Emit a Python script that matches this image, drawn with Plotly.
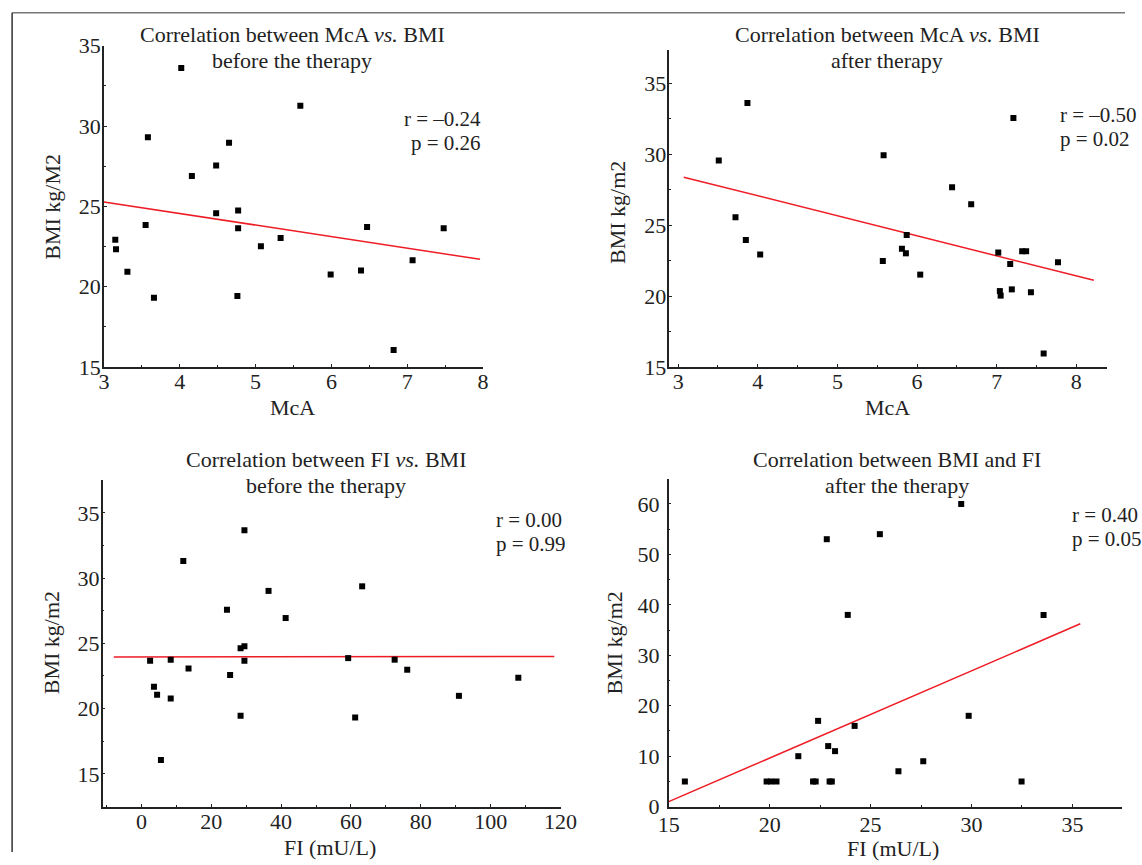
import plotly.graph_objects as go

FONT = "Liberation Serif, Times New Roman, serif"

# ---------------- data ----------------
# Panel 1: McA vs BMI before therapy
mca_before = [3.15, 3.16, 3.31, 3.55, 3.58, 3.66, 4.02, 4.16, 4.48, 4.48, 4.65, 4.77, 4.77, 4.76,
              5.07, 5.33, 5.59, 5.99, 6.39, 6.47, 6.82, 7.07, 7.48]
bmi_mca_before = [22.93, 22.33, 20.94, 23.85, 29.31, 19.32, 33.61, 26.90, 24.57, 27.54, 28.96, 24.74,
                  23.64, 19.42, 22.52, 23.04, 31.26, 20.77, 21.02, 23.72, 16.06, 21.65, 23.64]
fit1_x = [3.0, 7.96]
fit1_y = [25.28, 21.71]

# Panel 2: McA vs BMI after therapy
mca_after = [3.51, 3.72, 3.85, 3.87, 4.03, 5.57, 5.58, 5.81, 5.86, 5.87, 6.04, 6.44, 6.68, 7.02,
             7.04, 7.05, 7.17, 7.19, 7.21, 7.32, 7.37, 7.43, 7.59, 7.77]
bmi_mca_after = [29.56, 25.56, 23.96, 33.61, 22.93, 22.48, 29.94, 23.35, 23.02, 24.32, 21.52, 27.68,
                 26.48, 23.07, 20.36, 20.04, 22.27, 20.48, 32.55, 23.16, 23.16, 20.27, 15.96, 22.39]
fit2_x = [3.07, 8.22]
fit2_y = [28.39, 21.12]

# Panel 3: FI vs BMI before therapy
fi_before = [2.5, 3.6, 4.5, 5.6, 8.4, 8.4, 12.0, 13.5, 24.5, 25.4, 28.4, 28.4, 29.5, 29.5, 29.5,
             36.4, 41.3, 59.2, 61.2, 63.2, 72.5, 76.1, 90.9, 107.9]
bmi_fi_before = [23.67, 21.68, 21.06, 16.07, 23.75, 20.78, 31.32, 23.08, 27.58, 22.57, 24.62, 19.45,
                 33.67, 24.77, 23.67, 29.02, 26.94, 23.87, 19.32, 29.37, 23.75, 22.98, 20.98, 22.37]
fit3_x = [-7.9, 118.2]
fit3_y = [23.95, 24.0]

# Panel 4: BMI and FI after therapy
fi_after = [15.80, 19.85, 20.07, 20.34, 21.42, 22.15, 22.28, 22.40, 22.83, 22.90, 22.97, 23.08,
            23.24, 23.87, 24.21, 25.46, 26.38, 27.61, 29.49, 29.86, 32.48, 33.57]
bmi_fi_after = [5, 5, 5, 5, 10, 5, 5, 17, 53, 12, 5, 5, 11, 38, 16, 54, 7, 9, 60, 18, 5, 38]
fit4_x = [15.0, 35.39]
fit4_y = [0.99, 36.24]

stats = [("r = \u20130.24", "p = 0.26"), ("r = \u20130.50", "p = 0.02"),
         ("r = 0.00", "p = 0.99"), ("r = 0.40", "p = 0.05")]

# ---------------- helpers (target pixel -> paper fraction) ----------------
OX, VW = 11.6, 1111.6
OY, VH = 13.0, 839.0

def px(x):
    return min(max((x - OX) / VW, 0.0), 1.0)

def py(y):
    return min(max(1 - (y - OY) / VH, 0.0), 1.0)

def dom_x(a, b):
    return [px(a), px(b)]

def dom_y(top, bottom):
    return [py(bottom), py(top)]

fig = go.Figure()

panels = [
    (mca_before, bmi_mca_before, fit1_x, fit1_y),
    (mca_after, bmi_mca_after, fit2_x, fit2_y),
    (fi_before, bmi_fi_before, fit3_x, fit3_y),
    (fi_after, bmi_fi_after, fit4_x, fit4_y),
]
for i, (xs, ys, fx, fy) in enumerate(panels):
    suf = "" if i == 0 else str(i + 1)
    fig.add_trace(go.Scatter(x=fx, y=fy, mode="lines", line=dict(color="#ee1c25", width=1.5),
                             xaxis="x" + suf, yaxis="y" + suf, showlegend=False, hoverinfo="skip"))
    fig.add_trace(go.Scatter(x=xs, y=ys, mode="markers",
                             marker=dict(symbol="square", size=6, color="black"),
                             xaxis="x" + suf, yaxis="y" + suf, showlegend=False))

def axis(domain, rng, dtick, minor_dtick, anchor, standoff):
    return dict(domain=domain, range=rng, dtick=dtick, showline=True, linecolor="#222", linewidth=1.5,
                showgrid=False, zeroline=False, ticks="inside", ticklen=3, tickcolor="#222",
                tickfont=dict(family=FONT, size=22, color="#222"), anchor=anchor, mirror=False,
                ticklabelstandoff=standoff,
                minor=dict(dtick=minor_dtick, ticks="inside", ticklen=2, tickcolor="#222",
                           showgrid=False))

XS, YS = -6, -3
layout = dict(
    autosize=True, margin=dict(l=0, r=0, t=0, b=0),
    paper_bgcolor="white", plot_bgcolor="white",
    font=dict(family=FONT, color="#222"),
    xaxis=axis(dom_x(104.3, 482.7), [3, 8], 1, 0.5, "y", XS),
    yaxis=axis(dom_y(46.7, 367.7), [15, 35], 5, 2.5, "x", YS),
    xaxis2=axis(dom_x(668.5, 1105.2), [2.889, 8.385], 1, 0.5, "y2", XS),
    yaxis2=axis(dom_y(50.7, 367.7), [15, 37.37], 5, 2.5, "x2", YS),
    xaxis3=axis(dom_x(103, 560), [-11.1, 120], 20, 10, "y3", XS),
    yaxis3=axis(dom_y(480, 806.7), [12.49, 37.55], 5, 2.5, "x3", YS),
    xaxis4=axis(dom_x(667.9, 1120.7), [15, 37.48], 5, 2.5, "y4", -3),
    yaxis4=axis(dom_y(479.3, 806.7), [0, 64.96], 10, 5, "x4", 3),
)
fig.update_layout(**layout)

ann = []

def text(t, x, y, xanchor="center", size=22, angle=0):
    ann.append(dict(text=t, x=px(x), y=py(y), xref="paper", yref="paper", showarrow=False,
                    xanchor=xanchor, yanchor="middle", textangle=angle,
                    font=dict(family=FONT, size=size, color="#222")))

# titles
text("Correlation between McA <i>vs.</i> BMI", 292, 35)
text("before the therapy", 292, 61)
text("Correlation between McA <i>vs.</i> BMI", 886, 35)
text("after therapy", 886, 61)
text("Correlation between FI <i>vs.</i> BMI", 326, 460)
text("before the therapy", 326, 486)
text("Correlation between BMI and FI", 896, 460)
text("after the therapy", 896, 486)

# axis titles
text("McA", 292, 408)
text("McA", 886, 408)
text("FI (mU/L)", 330, 848)
text("FI (mU/L)", 892, 849)
text("BMI kg/M2", 53, 207, angle=-90)
text("BMI kg/m2", 617, 213, angle=-90)
text("BMI kg/m2", 52, 643, angle=-90)
text("BMI kg/m2", 614, 643, angle=-90)

# statistics
S = 21
text(stats[0][0], 483, 120, xanchor="right", size=S)
text(stats[0][1], 483, 144, xanchor="right", size=S)
text(stats[1][0], 1056, 116, xanchor="left", size=S)
text(stats[1][1], 1056, 140, xanchor="left", size=S)
text(stats[2][0], 494, 520, xanchor="left", size=S)
text(stats[2][1], 494, 544, xanchor="left", size=S)
text(stats[3][0], 1068, 515, xanchor="left", size=S)
text(stats[3][1], 1068, 539, xanchor="left", size=S)

fig.update_layout(annotations=ann)

# outer frame (top and left edges)
fig.add_shape(type="line", xref="paper", yref="paper", x0=0.001, x1=1, y0=0.999, y1=0.999,
              line=dict(color="#777", width=1.5))
fig.add_shape(type="line", xref="paper", yref="paper", x0=0.001, x1=0.001, y0=0.999, y1=0,
              line=dict(color="#333", width=1.5))

post = ("document.documentElement.style.margin='0';document.documentElement.style.overflow='hidden';"
        "document.body.style.margin='0';document.body.style.overflow='hidden';"
        "var gd=document.getElementById('{plot_id}');if(gd){Plotly.Plots.resize(gd);}")

fig.write_html("out.html", default_width="100vw", default_height="100vh",
               config={"responsive": True, "displayModeBar": False}, post_script=post)
